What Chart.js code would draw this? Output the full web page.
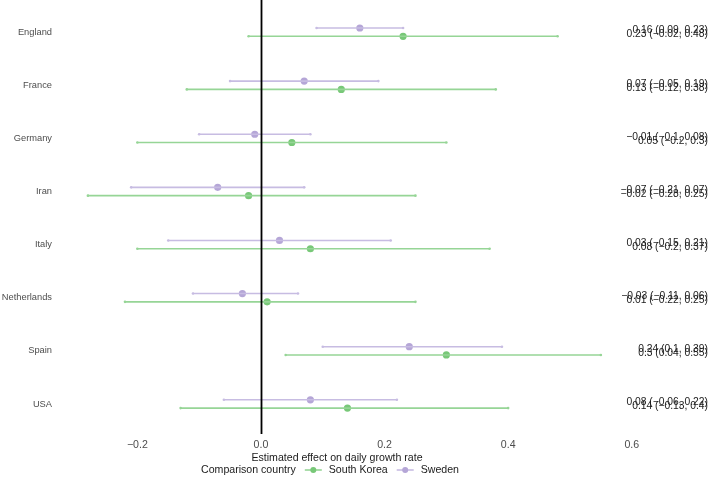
<!DOCTYPE html>
<html>
<head>
<meta charset="utf-8">
<script src="https://cdn.jsdelivr.net/npm/chart.js@4"></script>
<style>
  body { margin: 0; background: #fff; }
  #wrap { width: 709px; height: 477px; }
</style>
</head>
<body>
<div id="wrap"><canvas id="forest" width="709" height="477"></canvas></div>
<script>
// rows, top to bottom
const countries = ["England", "France", "Germany", "Iran", "Italy", "Netherlands", "Spain", "USA"];

// Sweden comparison (upper mark in each row)
const swedenEst = [0.16, 0.07, -0.01, -0.07, 0.03, -0.03, 0.24, 0.08];
const swedenLo  = [0.09, -0.05, -0.1, -0.21, -0.15, -0.11, 0.1, -0.06];
const swedenHi  = [0.23, 0.19, 0.08, 0.07, 0.21, 0.06, 0.39, 0.22];

// South Korea comparison (lower mark in each row)
const koreaEst = [0.23, 0.13, 0.05, -0.02, 0.08, 0.01, 0.3, 0.14];
const koreaLo  = [-0.02, -0.12, -0.2, -0.28, -0.2, -0.22, 0.04, -0.13];
const koreaHi  = [0.48, 0.38, 0.3, 0.25, 0.37, 0.25, 0.55, 0.4];

const xTicks = [-0.2, 0, 0.2, 0.4, 0.6];
const xTickLabels = ["\u22120.2", "0.0", "0.2", "0.4", "0.6"];

const FONT = "'Liberation Sans', Arial, sans-serif";
const GREEN = '#78c878';
const GREEN_LINE = '#96d596';
const PURPLE = '#b5a6d7';
const PURPLE_LINE = '#c7bce2';
const DODGE = 0.078;

function fmt(v) {
  return String(v).replace('-', '\u2212');
}

function ciLabel(est, lo, hi) {
  return fmt(est) + ' (' + fmt(lo) + ', ' + fmt(hi) + ')';
}

let datasets = [];

countries.forEach((c, i) => {
  datasets.push({
    type: 'line',
    data: [{x: swedenLo[i], y: i - DODGE}, {x: swedenHi[i], y: i - DODGE}],
    borderColor: PURPLE_LINE,
    backgroundColor: PURPLE_LINE,
    borderWidth: 1.6,
    pointRadius: 1.3,
    pointBorderWidth: 0
  });
  datasets.push({
    type: 'line',
    data: [{x: koreaLo[i], y: i + DODGE}, {x: koreaHi[i], y: i + DODGE}],
    borderColor: GREEN_LINE,
    backgroundColor: GREEN_LINE,
    borderWidth: 1.6,
    pointRadius: 1.3,
    pointBorderWidth: 0
  });
});

datasets.push({
  type: 'scatter',
  label: 'Sweden',
  data: swedenEst.map((v, i) => ({x: v, y: i - DODGE})),
  backgroundColor: PURPLE,
  borderWidth: 0,
  pointRadius: 3.6
});
datasets.push({
  type: 'scatter',
  label: 'South Korea',
  data: koreaEst.map((v, i) => ({x: v, y: i + DODGE})),
  backgroundColor: GREEN,
  borderWidth: 0,
  pointRadius: 3.6
});

const extras = {
  id: 'extras',
  afterDatasetsDraw(chart) {
    const ctx = chart.ctx;
    const xs = chart.scales.x;
    const ys = chart.scales.y;
    const area = chart.chartArea;

    // reference line at zero, full height of the panel
    const x0 = Math.round(xs.getPixelForValue(0)) + 0.5;
    ctx.save();
    ctx.strokeStyle = '#000';
    ctx.lineWidth = 1.8;
    ctx.beginPath();
    ctx.moveTo(x0, 0);
    ctx.lineTo(x0, area.bottom);
    ctx.stroke();

    // estimate (CI) text on the right
    ctx.font = '10.3px ' + FONT;
    ctx.fillStyle = '#1a1a1a';
    ctx.textAlign = 'right';
    ctx.textBaseline = 'middle';
    const right = chart.width - 1;
    countries.forEach((c, i) => {
      const yp = ys.getPixelForValue(i);
      ctx.fillText(ciLabel(swedenEst[i], swedenLo[i], swedenHi[i]), right, yp - 1.5);
      ctx.fillText(ciLabel(koreaEst[i], koreaLo[i], koreaHi[i]), right, yp + 2.5);
    });

    // axis title
    ctx.font = '10.6px ' + FONT;
    ctx.textAlign = 'center';
    ctx.fillText('Estimated effect on daily growth rate', 337, 458);

    // legend
    const title = 'Comparison country';
    const items = [['South Korea', GREEN, GREEN_LINE], ['Sweden', PURPLE, PURPLE_LINE]];
    const keyW = 17;
    let total = ctx.measureText(title).width;
    items.forEach(it => { total += 9 + keyW + 7 + ctx.measureText(it[0]).width; });
    let lx = 330 - total / 2;
    const ly = 470;
    ctx.textAlign = 'left';
    ctx.fillText(title, lx, ly);
    lx += ctx.measureText(title).width;
    items.forEach(it => {
      lx += 9;
      ctx.strokeStyle = it[2];
      ctx.lineWidth = 1.6;
      ctx.beginPath();
      ctx.moveTo(lx, ly);
      ctx.lineTo(lx + keyW, ly);
      ctx.stroke();
      ctx.fillStyle = it[1];
      ctx.beginPath();
      ctx.arc(lx + keyW / 2, ly, 3, 0, Math.PI * 2);
      ctx.fill();
      lx += keyW + 7;
      ctx.fillStyle = '#1a1a1a';
      ctx.fillText(it[0], lx, ly);
      lx += ctx.measureText(it[0]).width;
    });
    ctx.restore();
  }
};

new Chart(document.getElementById('forest'), {
  type: 'scatter',
  data: { datasets: datasets },
  options: {
    responsive: false,
    animation: false,
    layout: { padding: { right: 2, top: 0 } },
    plugins: {
      legend: { display: false },
      tooltip: { enabled: false }
    },
    scales: {
      x: {
        type: 'linear',
        min: -0.2863,
        max: 0.7185,
        grid: { display: false, drawTicks: false },
        border: { display: false },
        afterBuildTicks: (s) => { s.ticks = xTicks.map(v => ({value: v})); },
        afterFit: (s) => { s.height = 43; s.paddingLeft = 0; s.paddingRight = 0; },
        ticks: {
          padding: 5,
          color: '#4d4d4d',
          font: { family: FONT, size: 10.6 },
          callback: (v) => xTickLabels[xTicks.indexOf(v)]
        }
      },
      y: {
        type: 'linear',
        reverse: true,
        min: -0.53,
        max: 7.566,
        grid: { display: false, drawTicks: false },
        border: { display: false },
        afterBuildTicks: (s) => { s.ticks = countries.map((c, i) => ({value: i})); },
        afterFit: (s) => { s.width = 84; s.paddingTop = 0; s.paddingBottom = 0; },
        ticks: {
          padding: 32,
          color: '#4d4d4d',
          font: { family: FONT, size: 9.3 },
          callback: (v) => countries[v]
        }
      }
    }
  },
  plugins: [extras]
});
</script>
</body>
</html>
